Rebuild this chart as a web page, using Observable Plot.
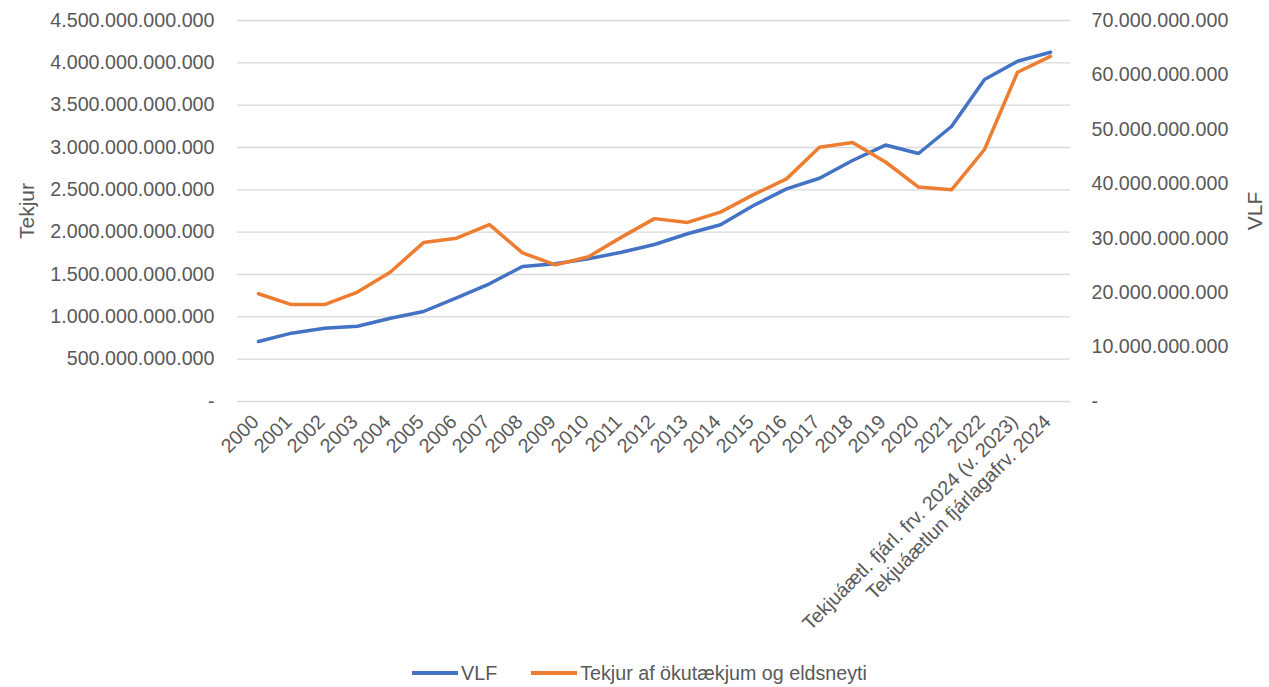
<!DOCTYPE html>
<html>
<head>
<meta charset="utf-8">
<script src="https://cdn.jsdelivr.net/npm/d3@7"></script>
<script src="https://cdn.jsdelivr.net/npm/@observablehq/plot@0.6"></script>
<style>
  html, body { margin: 0; padding: 0; background: #fff; }
  #wrap { width: 1269px; font-family: "Liberation Sans", Arial, sans-serif; color: #595959; }
  #legend { height: 36px; display: flex; align-items: center; justify-content: center; font-size: 19.7px; padding-left: 10px; }
  .item { display: flex; align-items: center; margin: 0 17px; }
  .sw { width: 46px; height: 3.5px; margin-right: 3px; }
</style>
</head>
<body>
<div id="wrap">
  <div id="chart"></div>
  <div id="legend">
    <div class="item"><span class="sw" style="background:#4472C4"></span><span>VLF</span></div>
    <div class="item"><span class="sw" style="background:#ED7D31"></span><span>Tekjur af ökutækjum og eldsneyti</span></div>
  </div>
</div>
<script>
// Categories (x axis)
const categories = ["2000","2001","2002","2003","2004","2005","2006","2007","2008","2009","2010","2011","2012","2013","2014","2015","2016","2017","2018","2019","2020","2021","2022","Tekjuáætl. fjárl. frv. 2024 (v. 2023)","Tekjuáætlun fjárlagafrv. 2024"];
// VLF, billions ISK (left axis)
const vlfBn = [709, 807, 866, 889, 984, 1063, 1225, 1390, 1594, 1626, 1685, 1763, 1854, 1981, 2087, 2315, 2512, 2637, 2846, 3029, 2929, 3248, 3803, 4019, 4125];
// Tekjur af ökutækjum og eldsneyti, billions ISK (right axis)
const tekjurBn = [19.8, 17.8, 17.8, 20.1, 23.8, 29.2, 30.0, 32.5, 27.3, 25.1, 26.6, 30.2, 33.6, 32.9, 34.8, 38.0, 40.9, 46.7, 47.6, 44.0, 39.4, 38.9, 46.3, 60.5, 63.4];
// Tick values
const leftTicks = [0, 0.5e12, 1e12, 1.5e12, 2e12, 2.5e12, 3e12, 3.5e12, 4e12, 4.5e12];
const rightTicks = [0, 10e9, 20e9, 30e9, 40e9, 50e9, 60e9, 70e9];
const leftTitle = "Tekjur";
const rightTitle = "VLF";

const leftMax = 4.5e12, rightMax = 70e9;
const k = leftMax / rightMax;

const rows = categories.map((c, i) => ({cat: c, vlf: vlfBn[i] * 1e9, tekjur: tekjurBn[i] * 1e9}));

const loc = d3.formatLocale({decimal: ",", thousands: ".", grouping: [3], currency: ["", ""]});
const f = loc.format(",.0f");
const fmt = d => (Math.abs(d) < 1 ? "-" : f(d));

const chart = Plot.plot({
  width: 1269,
  height: 655,
  marginTop: 20,
  marginBottom: 254,
  marginLeft: 237,
  marginRight: 199,
  style: {fontFamily: "'Liberation Sans', Arial, sans-serif", fontSize: "19.7px", color: "#595959", background: "white"},
  x: {type: "point", domain: categories, padding: 0.5},
  y: {domain: [0, leftMax]},
  marks: [
    Plot.gridY(leftTicks, {stroke: "#d9d9d9", strokeOpacity: 1, strokeWidth: 1.3}),
    Plot.axisY(leftTicks, {anchor: "left", tickSize: 0, tickPadding: 23, tickFormat: fmt, label: null}),
    Plot.axisY(rightTicks.map(v => v * k), {anchor: "right", tickSize: 0, tickPadding: 21, tickFormat: d => fmt(Math.round(d / k)), label: null}),
    Plot.axisX({tickRotate: -45, tickSize: 0, tickPadding: 17, dx: -3, label: null}),
    Plot.line(rows, {x: "cat", y: "vlf", stroke: "#4472C4", strokeWidth: 3.5, strokeLinejoin: "round"}),
    Plot.line(rows, {x: "cat", y: d => d.tekjur * k, stroke: "#ED7D31", strokeWidth: 3.5, strokeLinejoin: "round"}),
    Plot.text([leftTitle], {frameAnchor: "left", dx: -210, rotate: -90, textAnchor: "middle", fontSize: 21, fill: "#595959"}),
    Plot.text([rightTitle], {frameAnchor: "right", dx: 185, rotate: -90, textAnchor: "middle", fontSize: 21, fill: "#595959"})
  ]
});
document.getElementById("chart").appendChild(chart);
</script>
</body>
</html>
